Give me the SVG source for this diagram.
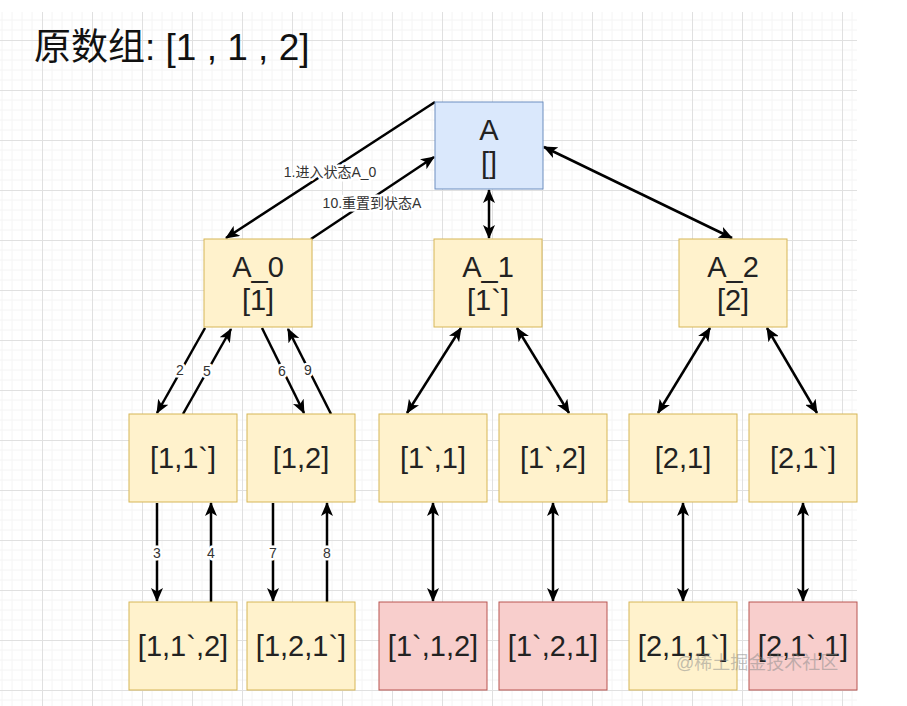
<svg xmlns="http://www.w3.org/2000/svg" width="907" height="706" viewBox="0 0 907 706">
<style>
.node text{font-family:"Liberation Sans","Noto Sans CJK SC",sans-serif;font-size:29px;fill:#222;text-anchor:middle}
.y{fill:#fff2cc;stroke:#d6b656;stroke-width:1}
.r{fill:#f8cecc;stroke:#b85450;stroke-width:1}
.b{fill:#dae8fc;stroke:#6c8ebf;stroke-width:1}
#connectors line{stroke:#000;stroke-width:2.5;fill:none}
.lbl{font-family:"Liberation Sans","Noto Sans CJK SC",sans-serif;font-size:14px;fill:#333;text-anchor:middle;stroke:#fff;stroke-width:5px;paint-order:stroke;stroke-linejoin:round}
.title{font-family:"Liberation Sans","Noto Sans CJK SC",sans-serif;font-size:37px;fill:#111}
.wm{font-family:"Liberation Sans","Noto Sans CJK SC",sans-serif;font-size:18px;fill:#888;fill-opacity:0.5}
</style>
<defs>
<pattern id="grid" patternUnits="userSpaceOnUse" x="42" y="40" width="50" height="50">
<path d="M10 0V50M20 0V50M30 0V50M40 0V50M0 10H50M0 20H50M0 30H50M0 40H50" stroke="#f4f4f4" stroke-width="1" fill="none"/>
<path d="M0.5 0V50M0 0.5H50" stroke="#e0e0e0" stroke-width="1" fill="none"/>
</pattern>
<marker id="arr" markerUnits="userSpaceOnUse" viewBox="0 0 14 12" refX="13" refY="6" markerWidth="14" markerHeight="12" orient="auto-start-reverse">
<path d="M0,0 L14,6 L0,12 L3.5,6 Z" fill="#000"/>
</marker>
</defs>
<rect width="907" height="706" fill="#fff"/>
<rect x="0" y="12" width="857" height="694" fill="url(#grid)"/>
<text class="title" x="34" y="60">原数组: [1 , 1 , 2]</text>

<g id="connectors">
<line x1="435" y1="102" x2="226" y2="238" marker-end="url(#arr)"/>
<line x1="311" y1="239" x2="434" y2="157" marker-end="url(#arr)"/>
<line x1="489" y1="190" x2="489" y2="238" marker-start="url(#arr)" marker-end="url(#arr)"/>
<line x1="544" y1="147" x2="732" y2="238" marker-start="url(#arr)" marker-end="url(#arr)"/>
<line x1="205" y1="328" x2="157" y2="413" marker-end="url(#arr)"/>
<line x1="183" y1="414" x2="231" y2="329" marker-end="url(#arr)"/>
<line x1="262" y1="328" x2="304" y2="413" marker-end="url(#arr)"/>
<line x1="331" y1="414" x2="288" y2="329" marker-end="url(#arr)"/>
<line x1="461" y1="328" x2="407" y2="413" marker-start="url(#arr)" marker-end="url(#arr)"/>
<line x1="517" y1="328" x2="569" y2="413" marker-start="url(#arr)" marker-end="url(#arr)"/>
<line x1="710" y1="328" x2="658" y2="413" marker-start="url(#arr)" marker-end="url(#arr)"/>
<line x1="767" y1="328" x2="817" y2="413" marker-start="url(#arr)" marker-end="url(#arr)"/>
<line x1="157" y1="503" x2="157" y2="601" marker-end="url(#arr)"/>
<line x1="211" y1="602" x2="211" y2="503" marker-end="url(#arr)"/>
<line x1="273" y1="503" x2="273" y2="601" marker-end="url(#arr)"/>
<line x1="327" y1="602" x2="327" y2="503" marker-end="url(#arr)"/>
<line x1="433" y1="503" x2="433" y2="601" marker-start="url(#arr)" marker-end="url(#arr)"/>
<line x1="553" y1="503" x2="553" y2="601" marker-start="url(#arr)" marker-end="url(#arr)"/>
<line x1="683" y1="503" x2="683" y2="601" marker-start="url(#arr)" marker-end="url(#arr)"/>
<line x1="803" y1="503" x2="803" y2="601" marker-start="url(#arr)" marker-end="url(#arr)"/>
<text class="lbl" x="330" y="177">1.进入状态A_0</text>
<text class="lbl" x="372" y="208">10.重置到状态A</text>
<text class="lbl" x="180" y="375">2</text>
<text class="lbl" x="207" y="376">5</text>
<text class="lbl" x="282" y="376">6</text>
<text class="lbl" x="308" y="375">9</text>
<text class="lbl" x="157" y="558">3</text>
<text class="lbl" x="211" y="558">4</text>
<text class="lbl" x="273" y="558">7</text>
<text class="lbl" x="327" y="558">8</text>
</g>

<g id="n-A" class="node"><rect class="b" x="435" y="102" width="108" height="87"/><text x="489" y="140">A</text><text x="489" y="173">[]</text></g>
<g id="n-A0" class="node"><rect class="y" x="204" y="239" width="108" height="88"/><text x="258" y="277">A_0</text><text x="258" y="310">[1]</text></g>
<g id="n-A1" class="node"><rect class="y" x="434" y="239" width="108" height="88"/><text x="488" y="277">A_1</text><text x="488" y="310">[1`]</text></g>
<g id="n-A2" class="node"><rect class="y" x="679" y="239" width="108" height="88"/><text x="733" y="277">A_2</text><text x="733" y="310">[2]</text></g>

<g id="n-11" class="node"><rect class="y" x="129" y="414" width="108" height="88"/><text x="183" y="468">[1,1`]</text></g>
<g id="n-12" class="node"><rect class="y" x="247" y="414" width="108" height="88"/><text x="301" y="468">[1,2]</text></g>
<g id="n-1b1" class="node"><rect class="y" x="379" y="414" width="108" height="88"/><text x="433" y="468">[1`,1]</text></g>
<g id="n-1b2" class="node"><rect class="y" x="499" y="414" width="108" height="88"/><text x="553" y="468">[1`,2]</text></g>
<g id="n-21" class="node"><rect class="y" x="629" y="414" width="108" height="88"/><text x="683" y="468">[2,1]</text></g>
<g id="n-21b" class="node"><rect class="y" x="749" y="414" width="108" height="88"/><text x="803" y="468">[2,1`]</text></g>

<g id="n-112" class="node"><rect class="y" x="129" y="602" width="108" height="88"/><text x="183" y="656">[1,1`,2]</text></g>
<g id="n-121" class="node"><rect class="y" x="247" y="602" width="108" height="88"/><text x="301" y="656">[1,2,1`]</text></g>
<g id="n-1b12" class="node"><rect class="r" x="379" y="602" width="108" height="88"/><text x="433" y="656">[1`,1,2]</text></g>
<g id="n-1b21" class="node"><rect class="r" x="499" y="602" width="108" height="88"/><text x="553" y="656">[1`,2,1]</text></g>
<g id="n-211" class="node"><rect class="y" x="629" y="602" width="108" height="88"/><text x="683" y="656">[2,1,1`]</text></g>
<g id="n-21b1" class="node"><rect class="r" x="749" y="602" width="108" height="88"/><text x="803" y="656">[2,1`,1]</text></g>

<text class="wm" x="676" y="669">@稀土掘金技术社区</text>
</svg>
